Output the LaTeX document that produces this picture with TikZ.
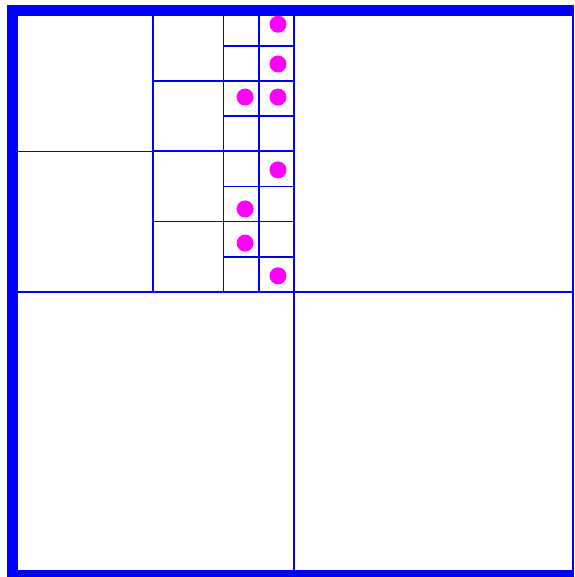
\documentclass[tikz,border=0pt]{standalone}
\definecolor{gridblue}{RGB}{0,0,255}
\definecolor{dotmagenta}{RGB}{255,0,255}
\begin{document}
\begin{tikzpicture}[
	x=1pt, y=-1pt,
	thinline/.style={ gridblue, line width=1.1pt },
	cellline/.style={ gridblue, line width=1.7pt },
	band/.style={ fill=gridblue },
	sample/.style={ circle, fill=dotmagenta, inner sep=0pt, minimum size=17pt }
]
\useasboundingbox (0,0) rectangle (574,577);
\begin{scope}[shift={(12.5,10.5)}, x=35.1875pt, y=-35.1875pt]

% coarse split
\draw[thinline] (8,8) -- (8,16);
\draw[thinline] (0,8) -- (4,8);
\draw[thinline] (8,8) -- (15.9,8);
\draw[thinline] (0,4) -- (4,4);

% refined part of the top left quadrant
\draw[cellline] (4,0) -- (4,8) -- (8,8) -- (8,0);
\draw[cellline] (4,4) -- (8,4);
\draw[cellline] (4,2) -- (8,2);
\draw[cellline] (4,6) -- (8,6);
\foreach \r in {0,...,7}
	\draw[cellline] (6,\r) rectangle (8,\r+1);
\draw[cellline] (7,0) -- (7,8);

% samples
\node[sample] at (7.545,0.39) (s1) {};
\node[sample] at (7.545,1.52) (s2) {};
\node[sample] at (6.61,2.46) (s3) {};
\node[sample] at (7.545,2.46) (s4) {};
\node[sample] at (7.545,4.53) (s5) {};
\node[sample] at (6.61,5.64) (s6) {};
\node[sample] at (6.61,6.61) (s7) {};
\node[sample] at (7.545,7.54) (s8) {};
\end{scope}

% outer frame, cut at the right and bottom edges
\fill[band] (7,5) rectangle (18,577);
\fill[band] (7,5) rectangle (574,16);
\fill[band] (7,570) rectangle (574,577);
\fill[band] (572,5) rectangle (574,577);

\end{tikzpicture}
\end{document}
